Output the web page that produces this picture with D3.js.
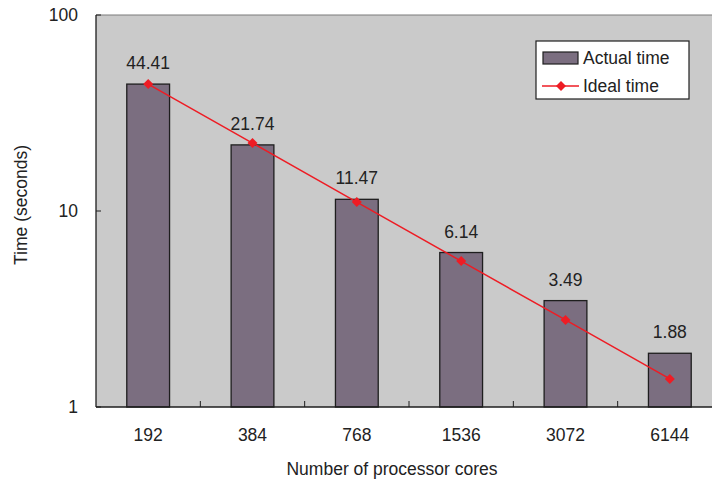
<!DOCTYPE html>
<html>
<head>
<meta charset="utf-8">
<script src="https://cdn.jsdelivr.net/npm/d3@7"></script>
<style>
  body { margin: 0; background: #fff; }
  svg { display: block; font-family: "Liberation Sans", Arial, sans-serif; }
</style>
</head>
<body>
<div id="chart"></div>
<script>
const cores = ['192', '384', '768', '1536', '3072', '6144'];
const actualTime = [44.41, 21.74, 11.47, 6.14, 3.49, 1.88];
const idealTime = [44.41, 22.21, 11.10, 5.55, 2.78, 1.39];
const yTicks = [1, 10, 100];

const drawChart = () => {
  let width = 712;
  let height = 482;
  let fontSize = 17.5;
  // plot runs a bit past the right edge, like the original crop
  let margin = { top: 15, left: 96, right: -10, bottom: 75 };
  let chartWidth = width - margin.left - margin.right;
  let chartHeight = height - margin.top - margin.bottom;

  let svg = d3
    .select('#chart')
    .append('svg')
    .attr('width', width)
    .attr('height', height);

  let g = svg
    .append('g')
    .attr('transform', `translate(${margin.left},${margin.top})`);

  let x = d3.scaleBand().domain(cores).range([0, chartWidth]).paddingInner(0.59).paddingOuter(0.295);
  let y = d3.scaleLog().domain([1, 100]).range([chartHeight, 0]);

  // plot background
  g.append('rect')
    .attr('width', chartWidth)
    .attr('height', chartHeight)
    .attr('fill', '#cacaca');
  g.append('line')
    .attr('x1', 0).attr('x2', chartWidth)
    .attr('y1', 0).attr('y2', 0)
    .attr('stroke', '#7a7a7a').attr('stroke-width', 1);

  // bars
  g.selectAll('.bar')
    .data(actualTime)
    .enter()
    .append('rect')
    .attr('class', 'bar')
    .attr('x', (d, i) => x(cores[i]))
    .attr('y', (d) => y(d))
    .attr('width', x.bandwidth())
    .attr('height', (d) => chartHeight - y(d))
    .attr('fill', '#7b6e80')
    .attr('stroke', '#1e1e1e')
    .attr('stroke-width', 1.3);

  // bar labels
  g.selectAll('.bar-label')
    .data(actualTime)
    .enter()
    .append('text')
    .attr('class', 'bar-label')
    .attr('x', (d, i) => x(cores[i]) + x.bandwidth() / 2)
    .attr('y', (d) => y(d) - 15)
    .attr('text-anchor', 'middle')
    .attr('font-size', fontSize)
    .attr('fill', '#222')
    .text((d) => d.toFixed(2));

  // ideal line
  let line = d3.line()
    .x((d, i) => x(cores[i]) + x.bandwidth() / 2)
    .y((d) => y(d));
  g.append('path')
    .datum(idealTime)
    .attr('d', line)
    .attr('fill', 'none')
    .attr('stroke', '#ee1c24')
    .attr('stroke-width', 1.5);

  // diamond marker = square turned 45deg
  let marker = d3.symbol().type(d3.symbolSquare).size(50);
  g.selectAll('.marker')
    .data(idealTime)
    .enter()
    .append('path')
    .attr('class', 'marker')
    .attr('d', marker)
    .attr('transform', (d, i) => `translate(${x(cores[i]) + x.bandwidth() / 2},${y(d)}) rotate(45)`)
    .attr('fill', '#ee1c24');

  // x axis
  let step = x.step();
  g.append('line')
    .attr('x1', 0).attr('x2', chartWidth)
    .attr('y1', chartHeight).attr('y2', chartHeight)
    .attr('stroke', '#1e1e1e').attr('stroke-width', 1.3);
  g.selectAll('.x-tick')
    .data(cores.slice(1))
    .enter()
    .append('line')
    .attr('class', 'x-tick')
    .attr('x1', (d) => x(d) - (step - x.bandwidth()) / 2)
    .attr('x2', (d) => x(d) - (step - x.bandwidth()) / 2)
    .attr('y1', chartHeight)
    .attr('y2', chartHeight - 6)
    .attr('stroke', '#1e1e1e');
  g.selectAll('.x-label')
    .data(cores)
    .enter()
    .append('text')
    .attr('class', 'x-label')
    .attr('x', (d) => x(d) + x.bandwidth() / 2)
    .attr('y', chartHeight + 34)
    .attr('text-anchor', 'middle')
    .attr('font-size', fontSize)
    .attr('fill', '#222')
    .text((d) => d);

  // y axis
  g.append('line')
    .attr('x1', 0).attr('x2', 0)
    .attr('y1', 0).attr('y2', chartHeight)
    .attr('stroke', '#1e1e1e').attr('stroke-width', 1.3);
  g.selectAll('.y-tick')
    .data(yTicks)
    .enter()
    .append('line')
    .attr('x1', 0).attr('x2', 5)
    .attr('y1', (d) => y(d)).attr('y2', (d) => y(d))
    .attr('stroke', '#1e1e1e');
  g.selectAll('.y-label')
    .data(yTicks)
    .enter()
    .append('text')
    .attr('class', 'y-label')
    .attr('x', -18)
    .attr('y', (d) => y(d) + 6)
    .attr('text-anchor', 'end')
    .attr('font-size', fontSize)
    .attr('fill', '#222')
    .text((d) => d);

  // axis titles
  svg.append('text')
    .attr('x', 392)
    .attr('y', 475)
    .attr('text-anchor', 'middle')
    .attr('font-size', fontSize)
    .attr('fill', '#222')
    .text('Number of processor cores');
  svg.append('text')
    .attr('transform', 'translate(27,205) rotate(-90)')
    .attr('text-anchor', 'middle')
    .attr('font-size', fontSize)
    .attr('fill', '#222')
    .text('Time (seconds)');

  // legend
  let legend = svg.append('g').attr('transform', 'translate(536,41)');
  legend.append('rect')
    .attr('width', 153).attr('height', 58)
    .attr('fill', '#fff').attr('stroke', '#1e1e1e').attr('stroke-width', 1.2);
  legend.append('rect')
    .attr('x', 7).attr('y', 11).attr('width', 35).attr('height', 12)
    .attr('fill', '#7b6e80').attr('stroke', '#1e1e1e').attr('stroke-width', 1.2);
  legend.append('text')
    .attr('x', 47).attr('y', 23)
    .attr('font-size', fontSize).attr('fill', '#222')
    .text('Actual time');
  legend.append('line')
    .attr('x1', 6).attr('x2', 43).attr('y1', 45).attr('y2', 45)
    .attr('stroke', '#ee1c24').attr('stroke-width', 1.5);
  legend.append('path')
    .attr('d', marker)
    .attr('transform', 'translate(25,45) rotate(45)')
    .attr('fill', '#ee1c24');
  legend.append('text')
    .attr('x', 47).attr('y', 51)
    .attr('font-size', fontSize).attr('fill', '#222')
    .text('Ideal time');
};

drawChart();
</script>
</body>
</html>
